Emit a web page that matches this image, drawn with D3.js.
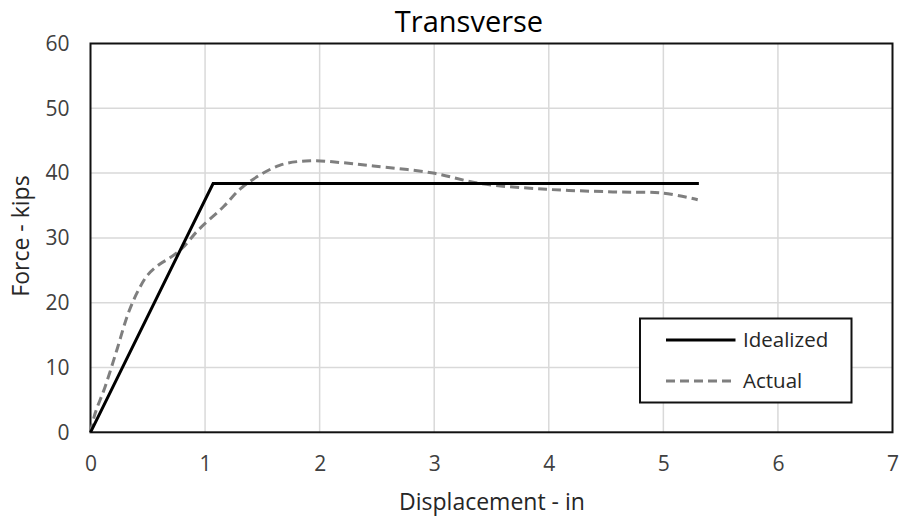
<!DOCTYPE html>
<html>
<head>
<meta charset="utf-8">
<script src="https://cdn.jsdelivr.net/npm/d3@7"></script>
<style>
  html, body { margin: 0; padding: 0; background: #fff; }
  svg { display: block; font-family: "Open Sans", "Segoe UI", sans-serif; }
</style>
</head>
<body>
<svg id="chart" width="899" height="518"></svg>
<script>
// Pushover curves: displacement (in) vs. force (kips)
const idealizedX = [0, 1.07, 5.31];
const idealizedY = [0, 38.4, 38.4];

const actualX = [0, 0.04, 0.127, 0.23, 0.33, 0.42, 0.5, 0.6, 0.7, 0.8, 0.94, 1.16, 1.33, 1.65, 1.92, 2.2, 2.47, 2.99, 3.4, 3.98, 4.56, 5.0, 5.3];
const actualY = [0, 2.9, 7.0, 12.7, 18.4, 22.0, 24.3, 25.9, 27.0, 28.4, 31.2, 34.8, 37.9, 41.2, 41.9, 41.6, 41.1, 40.0, 38.4, 37.5, 37.1, 36.9, 35.9];

const xTicks = [0, 1, 2, 3, 4, 5, 6, 7];
const yTicks = [0, 10, 20, 30, 40, 50, 60];

const seriesNames = ["Idealized", "Actual"];

const svg = d3.select("#chart");
const plotL = 90.5, plotR = 892.5, plotT = 43.5, plotB = 432.3;

const x = d3.scaleLinear().domain([0, 7]).range([plotL, plotR]);
const y = d3.scaleLinear().domain([0, 60]).range([plotB, plotT]);

// gridlines
svg.append("g").selectAll("line").data(xTicks.slice(1, -1)).join("line")
  .attr("x1", d => x(d)).attr("x2", d => x(d))
  .attr("y1", plotT).attr("y2", plotB)
  .attr("stroke", "#d9d9d9").attr("stroke-width", 1.5);
svg.append("g").selectAll("line").data(yTicks.slice(1, -1)).join("line")
  .attr("x1", plotL).attr("x2", plotR)
  .attr("y1", d => y(d)).attr("y2", d => y(d))
  .attr("stroke", "#d9d9d9").attr("stroke-width", 1.5);

// axes (labels only, frame drawn separately)
const xAxis = svg.append("g").attr("transform", `translate(0,${plotB})`)
  .call(d3.axisBottom(x).tickValues(xTicks).tickFormat(d3.format("d")).tickSize(0).tickPadding(23.5));
const yAxis = svg.append("g").attr("transform", `translate(${plotL},0)`)
  .call(d3.axisLeft(y).tickValues(yTicks).tickFormat(d3.format("d")).tickSize(0).tickPadding(21));
[xAxis, yAxis].forEach(a => {
  a.select(".domain").remove();
  a.selectAll("text").attr("font-size", 21).attr("fill", "#404040")
    .attr("font-family", "'Open Sans', sans-serif");
});

// plot frame
svg.append("rect")
  .attr("x", plotL).attr("y", plotT)
  .attr("width", plotR - plotL).attr("height", plotB - plotT)
  .attr("fill", "none").attr("stroke", "#111").attr("stroke-width", 2);

// series
const ideal = d3.zip(idealizedX, idealizedY);
const actual = d3.zip(actualX, actualY);

svg.append("path").datum(actual)
  .attr("d", d3.line().x(d => x(d[0])).y(d => y(d[1])).curve(d3.curveCatmullRom.alpha(0.5)))
  .attr("fill", "none").attr("stroke", "#7f7f7f").attr("stroke-width", 3)
  .attr("stroke-dasharray", "9,5");

svg.append("path").datum(ideal)
  .attr("d", d3.line().x(d => x(d[0])).y(d => y(d[1])))
  .attr("fill", "none").attr("stroke", "#000").attr("stroke-width", 3)
  .attr("stroke-linejoin", "miter");

// title and axis titles
svg.append("text").attr("x", 469).attr("y", 31.5).attr("text-anchor", "middle")
  .attr("font-size", 29).attr("fill", "#000").text("Transverse");
svg.append("text").attr("x", 492).attr("y", 510).attr("text-anchor", "middle")
  .attr("font-size", 23).attr("fill", "#262626").text("Displacement - in");
svg.append("text").attr("transform", `translate(29.3,236) rotate(-90)`)
  .attr("text-anchor", "middle").attr("font-size", 23).attr("fill", "#262626").text("Force - kips");

// legend
const lg = svg.append("g");
lg.append("rect").attr("x", 640).attr("y", 318.5).attr("width", 211.5).attr("height", 84)
  .attr("fill", "#fff").attr("stroke", "#111").attr("stroke-width", 2);
const legendRows = [
  { name: seriesNames[0], color: "#000", dash: null, yy: 340, base: 346.7 },
  { name: seriesNames[1], color: "#7f7f7f", dash: "9,5", yy: 381, base: 388.3 }
];
legendRows.forEach(r => {
  lg.append("line").attr("x1", 666).attr("x2", 735.5).attr("y1", r.yy).attr("y2", r.yy)
    .attr("stroke", r.color).attr("stroke-width", 3).attr("stroke-dasharray", r.dash);
  lg.append("text").attr("x", 743).attr("y", r.base).attr("font-size", 20.5)
    .attr("fill", "#262626").text(r.name);
});
</script>
</body>
</html>
